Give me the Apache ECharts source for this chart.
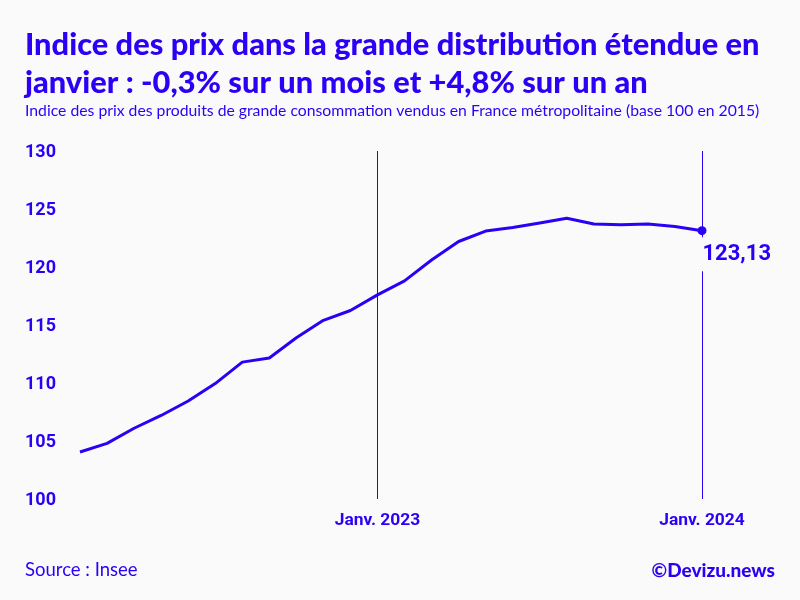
<!DOCTYPE html>
<html>
<head>
<meta charset="utf-8">
<style>
html, body { margin: 0; padding: 0; background: #fafafa; }
#chart { width: 800px; height: 600px; }
</style>
<script src="https://cdn.jsdelivr.net/npm/echarts@6/dist/echarts.min.js"></script>
</head>
<body>
<div id="chart"></div>
<script>
var bleu = '#2b00f5';
var mois = ['Févr. 2022', 'Mars 2022', 'Avr. 2022', 'Mai 2022', 'Juin 2022', 'Juil. 2022', 'Août 2022', 'Sept. 2022', 'Oct. 2022', 'Nov. 2022', 'Déc. 2022',
	'Janv. 2023', 'Févr. 2023', 'Mars 2023', 'Avr. 2023', 'Mai 2023', 'Juin 2023', 'Juil. 2023', 'Août 2023', 'Sept. 2023', 'Oct. 2023', 'Nov. 2023', 'Déc. 2023', 'Janv. 2024'];
var indice = [104.05, 104.8, 106.1, 107.2, 108.45, 109.95, 111.8, 112.15, 113.9, 115.4, 116.25,
	117.6, 118.8, 120.6, 122.2, 123.1, 123.4, 123.8, 124.2, 123.7, 123.65, 123.7, 123.5, 123.13];

function estJanvier(index) {
	return index === 11 || index === 23;
}

var myChart = echarts.init(document.getElementById('chart'));
var option = {
	backgroundColor: '#fafafa',
	animation: false,
	title: [
		{
			text: 'Indice des prix dans la grande distribution étendue en\njanvier : -0,3% sur un mois et +4,8% sur un an',
			left: 25,
			top: 26,
			padding: 0,
			textStyle: { color: bleu, fontFamily: 'Lato', fontWeight: 900, fontSize: 30.8, lineHeight: 38 }
		},
		{
			text: 'Indice des prix des produits de grande consommation vendus en France métropolitaine (base 100 en 2015)',
			left: 25,
			top: 103,
			padding: 0,
			textStyle: { color: bleu, fontFamily: 'Lato', fontWeight: 400, fontSize: 15.75 }
		},
		{
			text: 'Source : Insee',
			left: 25,
			top: 561,
			padding: 0,
			textStyle: { color: bleu, fontFamily: 'Lato', fontWeight: 400, fontSize: 18.5 }
		},
		{
			text: '©Devizu.news',
			right: 25,
			top: 561,
			padding: 0,
			textStyle: { color: bleu, fontFamily: 'Lato', fontWeight: 900, fontSize: 19 }
		}
	],
	grid: {
		top: 151,
		bottom: 101,
		left: 80,
		right: 98
	},
	xAxis: {
		type: 'category',
		data: mois,
		boundaryGap: false,
		axisLine: { show: false },
		axisTick: { show: false },
		axisLabel: {
			interval: estJanvier,
			margin: 13,
			color: bleu,
			fontFamily: 'Roboto',
			fontWeight: 'bold',
			fontSize: 17.4
		},
		splitLine: {
			show: true,
			interval: estJanvier,
			lineStyle: { color: bleu, width: 1 }
		}
	},
	yAxis: {
		type: 'value',
		min: 100,
		max: 130,
		interval: 5,
		axisLine: { show: false },
		axisTick: { show: false },
		axisLabel: {
			align: 'left',
			verticalAlign: 'top',
			lineHeight: 3,
			margin: 55,
			color: bleu,
			fontFamily: 'Roboto',
			fontWeight: 'bold',
			fontSize: 18
		},
		splitLine: { show: false }
	},
	series: [{
		type: 'line',
		data: indice,
		showSymbol: false,
		symbol: 'circle',
		lineStyle: { color: bleu, width: 3 },
		itemStyle: { color: bleu },
		markPoint: {
			silent: true,
			symbol: 'circle',
			symbolSize: 9,
			itemStyle: { color: bleu },
			data: [{ coord: [23, 123.13] }],
			label: {
				show: true,
				formatter: '123,13',
				position: [1, 11],
				color: bleu,
				fontFamily: 'Roboto',
				fontWeight: 'bold',
				fontSize: 22,
				backgroundColor: '#fafafa',
				padding: [6, 4, 6, 4]
			}
		}
	}]
};
myChart.setOption(option);
</script>
</body>
</html>
